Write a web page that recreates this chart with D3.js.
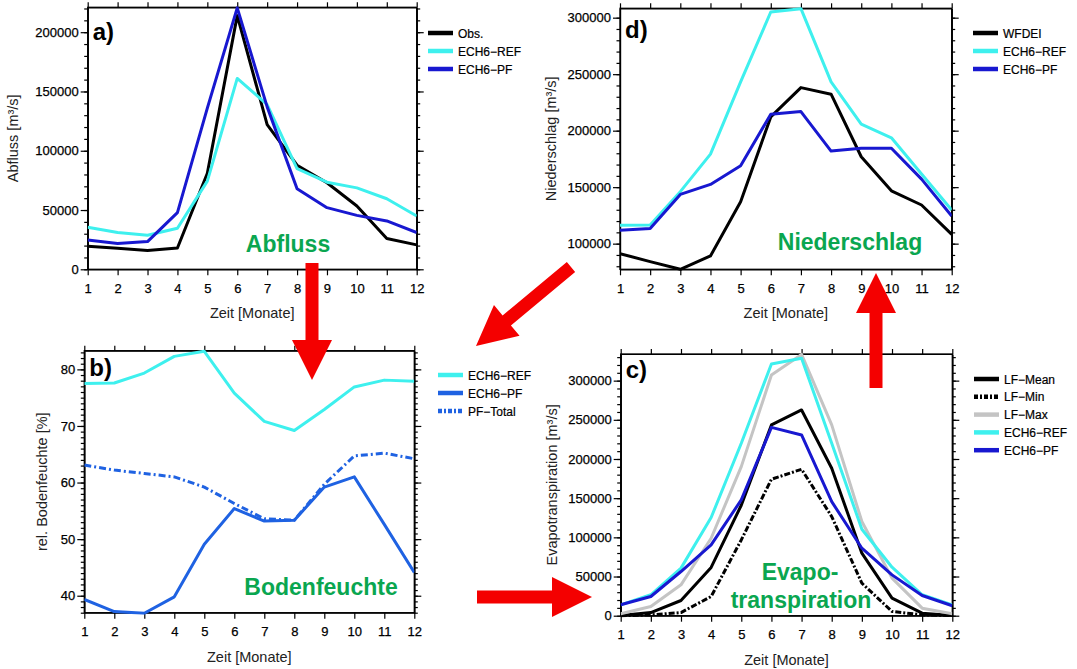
<!DOCTYPE html>
<html lang="de">
<head>
<meta charset="UTF-8">
<title>Wasserhaushalt ECH6</title>
<script src="https://d3js.org/d3.v7.min.js"></script>
<style>
  * { margin: 0; padding: 0; }
  body { background: #fff; }
  svg { display: block; font-family: 'Liberation Sans', Arial, sans-serif; }
  .axis path, .axis line { stroke: #000; stroke-width: 1.2; }
  .axis text { font-size: 13px; fill: #000; stroke: #000; stroke-width: 0.25; }
  .ytitle, .xtitle { font-size: 14.5px; fill: #222; }
  .legend text { font-size: 12px; fill: #000; stroke: #000; stroke-width: 0.2; }
  .letter { font-size: 24px; font-weight: bold; fill: #000; }
  .green { font-size: 23px; font-weight: bold; fill: #0aa650; }
</style>
</head>
<body>
<div id="chart"></div>
<script>
const months = [1, 2, 3, 4, 5, 6, 7, 8, 9, 10, 11, 12];

// a) Abfluss [m3/s]
const abflussObs = [19500, 17800, 15800, 18000, 81000, 214000, 122000, 87800, 73000, 53400, 26000, 20600];
const abflussRef = [35500, 31000, 28700, 34600, 74400, 161000, 139000, 85000, 73500, 68700, 59500, 45000];
const abflussPf  = [24700, 21700, 23400, 47800, 136000, 220500, 137000, 68000, 52000, 45500, 40800, 31000];

// d) Niederschlag [m3/s]
const niedWfdei = [91200, 84100, 77300, 89100, 137100, 212200, 238100, 232300, 176900, 146800, 134200, 108200];
const niedRef   = [116200, 116400, 146000, 179200, 243200, 305000, 308000, 243200, 205700, 193700, 161600, 129800];
const niedPf    = [111800, 113500, 143600, 152400, 168900, 214600, 216900, 181900, 184500, 184500, 157100, 124400];

// b) rel. Bodenfeuchte [%]
const bodenRef     = [77.5, 77.6, 79.35, 82.3, 83.2, 75.8, 70.8, 69.2, 72.9, 76.9, 78.1, 77.9];
const bodenPf      = [39.35, 37.2, 36.9, 39.8, 49.1, 55.4, 53.2, 53.35, 59.2, 61.0, 52.6, 44.1];
const bodenPfTotal = [63.1, 62.2, 61.6, 61.0, 59.2, 56.3, 53.6, 53.35, 59.7, 64.7, 65.2, 64.2];

// c) Evapotranspiration [m3/s]
const etMean = [300, 4000, 19400, 61600, 141000, 243500, 262600, 188200, 79800, 22400, 3200, 300];
const etMin  = [0, 1000, 4000, 24500, 96700, 174100, 186900, 126500, 41500, 5400, 1100, 300];
const etMax  = [2400, 11700, 39400, 98900, 190300, 307200, 333500, 243500, 120200, 47900, 9600, 2400];
const etRef  = [13900, 26700, 60700, 125300, 220100, 321300, 328500, 220100, 110400, 61900, 26700, 13900];
const etPf   = [13900, 24500, 56400, 90400, 147800, 240400, 230700, 145600, 86100, 52100, 25800, 12700];

const cyan = "#3ef0ee";
const navy = "#1818d0";
const midBlue = "#1f62e2";

const W = 1077, H = 669;
const svg = d3.select("#chart").append("svg")
    .attr("width", W).attr("height", H);

function drawPanel(p) {
    const x = d3.scaleLinear().domain([1, 12]).range([p.left, p.right]);
    const y = d3.scaleLinear().domain(p.domain).range([p.bottom, p.top]);
    const g = svg.append("g");

    // minor ticks left/right
    const minor = d3.range(Math.ceil(p.domain[0] / p.minor) * p.minor, p.domain[1] + 1e-9, p.minor);
    g.append("g").attr("class", "axis")
        .attr("transform", `translate(${p.left},0)`)
        .call(d3.axisLeft(y).tickValues(minor).tickSize(3.5).tickFormat("").tickSizeOuter(0));
    g.append("g").attr("class", "axis")
        .attr("transform", `translate(${p.right},0)`)
        .call(d3.axisRight(y).tickValues(minor).tickSize(3.5).tickFormat("").tickSizeOuter(0));

    // major ticks
    g.append("g").attr("class", "axis")
        .attr("transform", `translate(${p.left},0)`)
        .call(d3.axisLeft(y).tickValues(p.major).tickSize(7).tickPadding(2)
            .tickFormat(d3.format("d")).tickSizeOuter(0));
    g.append("g").attr("class", "axis")
        .attr("transform", `translate(${p.right},0)`)
        .call(d3.axisRight(y).tickValues(p.major).tickSize(7).tickFormat("").tickSizeOuter(0));
    g.append("g").attr("class", "axis")
        .attr("transform", `translate(0,${p.bottom})`)
        .call(d3.axisBottom(x).tickValues(months).tickSize(6).tickPadding(8).tickSizeOuter(0));
    g.append("g").attr("class", "axis")
        .attr("transform", `translate(0,${p.top})`)
        .call(d3.axisTop(x).tickValues(months).tickSize(5).tickFormat("").tickSizeOuter(0));

    g.append("rect")
        .attr("x", p.left).attr("y", p.top)
        .attr("width", p.right - p.left).attr("height", p.bottom - p.top)
        .attr("fill", "none").attr("stroke", "#000").attr("stroke-width", 1.3);

    const clipId = "clip" + p.letter[0];
    g.append("clipPath").attr("id", clipId).append("rect")
        .attr("x", p.left).attr("y", p.top - 2)
        .attr("width", p.right - p.left).attr("height", p.bottom - p.top + 4);

    const line = d3.line().x((d, i) => x(months[i])).y(d => y(d));
    p.series.forEach(s => {
        g.append("path")
            .attr("clip-path", `url(#${clipId})`)
            .attr("d", line(s.values))
            .attr("fill", "none")
            .attr("stroke", s.color)
            .attr("stroke-width", 3)
            .attr("stroke-dasharray", s.dash || null)
            .attr("stroke-linejoin", "round");
    });

    // legend
    const lg = g.append("g").attr("class", "legend");
    p.series.forEach((s, i) => {
        const ly = p.legendY + i * p.legendStep;
        lg.append("line")
            .attr("x1", p.legendX).attr("x2", p.legendX + 25)
            .attr("y1", ly).attr("y2", ly)
            .attr("stroke", s.color).attr("stroke-width", 4.5)
            .attr("stroke-dasharray", s.dash ? "4,2,2,2" : null);
        lg.append("text")
            .attr("x", p.legendX + 30).attr("y", ly + 4.5)
            .text(s.name);
    });

    g.append("text").attr("class", "letter")
        .attr("x", p.left + 5).attr("y", p.letterY).text(p.letter);

    g.append("text").attr("class", "ytitle")
        .attr("transform", `translate(${p.ytitleX},${(p.top + p.bottom) / 2}) rotate(-90)`)
        .attr("text-anchor", "middle").text(p.ytitle);

    g.append("text").attr("class", "xtitle")
        .attr("x", (p.left + p.right) / 2).attr("y", p.bottom + 49)
        .attr("text-anchor", "middle").text("Zeit [Monate]");

    p.green.forEach(t => {
        g.append("text").attr("class", "green")
            .attr("x", t.x).attr("y", t.y)
            .attr("text-anchor", "middle").text(t.text);
    });
}

drawPanel({
    letter: "a)", left: 87.7, right: 416.7, top: 7.3, bottom: 269.3,
    domain: [0, 221000], major: [0, 50000, 100000, 150000, 200000], minor: 10000,
    ytitle: "Abfluss [m³/s]", ytitleX: 18, letterY: 40,
    legendX: 428, legendY: 33, legendStep: 18,
    series: [
        { name: "Obs.", values: abflussObs, color: "#000" },
        { name: "ECH6\u2212REF", values: abflussRef, color: cyan },
        { name: "ECH6\u2212PF", values: abflussPf, color: navy }
    ],
    green: [{ text: "Abfluss", x: 288, y: 252 }]
});

drawPanel({
    letter: "d)", left: 620, right: 951.7, top: 8.3, bottom: 269.3,
    domain: [77300, 308300], major: [100000, 150000, 200000, 250000, 300000], minor: 10000,
    ytitle: "Niederschlag [m³/s]", ytitleX: 556, letterY: 38,
    legendX: 973, legendY: 33, legendStep: 18,
    series: [
        { name: "WFDEI", values: niedWfdei, color: "#000" },
        { name: "ECH6\u2212REF", values: niedRef, color: cyan },
        { name: "ECH6\u2212PF", values: niedPf, color: navy }
    ],
    green: [{ text: "Niederschlag", x: 850, y: 250 }]
});

drawPanel({
    letter: "b)", left: 84.3, right: 414.3, top: 350.7, bottom: 612.7,
    domain: [37, 83.3], major: [40, 50, 60, 70, 80], minor: 1,
    ytitle: "rel. Bodenfeuchte [%]", ytitleX: 47, letterY: 376,
    legendX: 438, legendY: 375, legendStep: 18,
    series: [
        { name: "ECH6\u2212REF", values: bodenRef, color: cyan },
        { name: "ECH6\u2212PF", values: bodenPf, color: midBlue },
        { name: "PF\u2212Total", values: bodenPfTotal, color: midBlue, dash: "7,3,2,3" }
    ],
    green: [{ text: "Bodenfeuchte", x: 321, y: 595 }]
});

drawPanel({
    letter: "c)", left: 620.7, right: 952.3, top: 354, bottom: 615.7,
    domain: [0, 334000], major: [0, 50000, 100000, 150000, 200000, 250000, 300000], minor: 10000,
    ytitle: "Evapotranspiration [m³/s]", ytitleX: 557, letterY: 378,
    legendX: 974, legendY: 379, legendStep: 17.8,
    series: [
        { name: "LF\u2212Mean", values: etMean, color: "#000" },
        { name: "LF\u2212Min", values: etMin, color: "#000", dash: "6,2,2,2" },
        { name: "LF\u2212Max", values: etMax, color: "#c4c4c4" },
        { name: "ECH6\u2212REF", values: etRef, color: cyan },
        { name: "ECH6\u2212PF", values: etPf, color: navy }
    ],
    green: [{ text: "Evapo-", x: 800, y: 580 }, { text: "transpiration", x: 801, y: 608 }]
});

// red arrows between the panels
const arrows = [
    { from: [312, 263], to: [312, 380] },
    { from: [571, 267], to: [476, 346] },
    { from: [477, 597], to: [592, 597] },
    { from: [876, 388], to: [876, 273] }
];
arrows.forEach(a => {
    const dx = a.to[0] - a.from[0], dy = a.to[1] - a.from[1];
    const len = Math.hypot(dx, dy);
    const ang = Math.atan2(dy, dx) * 180 / Math.PI;
    const head = 40, hw = 20, sw = 6.5;
    svg.append("path")
        .attr("transform", `translate(${a.from[0]},${a.from[1]}) rotate(${ang})`)
        .attr("d", `M0,${-sw} L${len - head},${-sw} L${len - head},${-hw} L${len},0 L${len - head},${hw} L${len - head},${sw} L0,${sw} Z`)
        .attr("fill", "#f40000");
});
</script>
</body>
</html>
